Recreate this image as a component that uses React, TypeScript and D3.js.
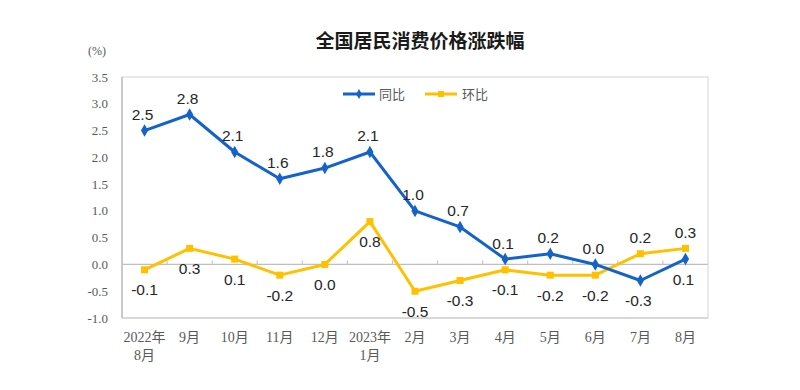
import * as d3 from 'd3'
import { useLayoutEffect } from 'react'

const CATEGORIES = ['2022年\n8月', '9月', '10月', '11月', '12月', '2023年\n1月', '2月', '3月', '4月', '5月', '6月', '7月', '8月']
const YOY = [2.5, 2.8, 2.1, 1.6, 1.8, 2.1, 1.0, 0.7, 0.1, 0.2, 0.0, -0.3, 0.1]
const MOM = [-0.1, 0.3, 0.1, -0.2, 0.0, 0.8, -0.5, -0.3, -0.1, -0.2, -0.2, 0.2, 0.3]
// label above (1) or below (-1) the point
const YOY_POS = [1, 1, 1, 1, 1, 1, 1, 1, 1, 1, 1, -1, -1]
const MOM_POS = [-1, -1, -1, -1, -1, -1, -1, -1, -1, -1, -1, 1, 1]
const Y_TICKS = [3.5, 3.0, 2.5, 2.0, 1.5, 1.0, 0.5, 0.0, -0.5, -1.0]

const W = 800
const H = 390
const FRAME = { left: 122, right: 708, top: 77, bottom: 318 }
const BLUE = '#1463c8'
const YELLOW = '#ffc000'
const SERIF = '"Liberation Serif", "Times New Roman", "Noto Sans CJK SC", serif'
const SANS = '"Liberation Sans", Arial, "Noto Sans CJK SC", sans-serif'

export default function App() {
  useLayoutEffect(() => { document.body.style.margin = '0' }, [])

  const x = d3.scaleBand<string>().domain(CATEGORIES).range([FRAME.left, FRAME.right])
  const y = d3.scaleLinear().domain([-1, 3.5]).range([FRAME.bottom, FRAME.top])
  const cx = (i: number) => (x(CATEGORIES[i]) ?? 0) + x.bandwidth() / 2

  const line = d3.line<number>().x((_, i) => cx(i)).y(d => y(d))
  const y0 = y(0)

  const labelY = (v: number, pos: number) => y(v) + (pos > 0 ? -16 : 20)

  return (
    <svg width={W} height={H} style={{ display: 'block', background: '#fff' }}>
      {/* title */}
      <text x={420} y={48} textAnchor="middle" fontSize={19} fontWeight={600}
        fontFamily='"Noto Sans CJK SC", sans-serif' fill="#1a1a1a">全国居民消费价格涨跌幅</text>
      <text x={88} y={55} fontSize={12} fontFamily={SERIF} fill="#595959">(%)</text>

      {/* frame */}
      <rect x={FRAME.left} y={FRAME.top} width={FRAME.right - FRAME.left} height={FRAME.bottom - FRAME.top}
        fill="none" stroke="#d4d4d4" strokeWidth={1} />
      <line x1={FRAME.left} x2={FRAME.left} y1={FRAME.top} y2={FRAME.bottom} stroke="#bfbfbf" strokeWidth={1.5} />
      <line x1={FRAME.left} x2={FRAME.right} y1={FRAME.bottom} y2={FRAME.bottom} stroke="#c8c8c8" strokeWidth={1.2} />

      {/* y tick labels */}
      {Y_TICKS.map(t => (
        <text key={t} x={FRAME.left - 14} y={y(t)} dy="0.35em" textAnchor="end"
          fontSize={13} fontFamily={SERIF} fill="#595959">{t.toFixed(1)}</text>
      ))}

      {/* zero axis with ticks */}
      <line x1={FRAME.left} x2={FRAME.right} y1={y0} y2={y0} stroke="#bfbfbf" strokeWidth={1.2} />
      {CATEGORIES.slice(1).map(c => (
        <line key={c} x1={x(c)} x2={x(c)} y1={y0} y2={y0 - 4} stroke="#bfbfbf" strokeWidth={1} />
      ))}

      {/* x labels */}
      {CATEGORIES.map((c, i) => (
        <text key={c} x={cx(i)} y={FRAME.bottom + 24} textAnchor="middle"
          fontSize={14} fontFamily={SERIF} fill="#595959">
          {c.split('\n').map((p, k) => (
            <tspan key={k} x={cx(i)} dy={k === 0 ? 0 : 18}>{p}</tspan>
          ))}
        </text>
      ))}

      {/* legend */}
      <g transform="translate(343,94)">
        <line x1={0} x2={32} y1={0} y2={0} stroke={BLUE} strokeWidth={3} />
        <path d={d3.symbol(d3.symbolDiamond, 28)() ?? ''} transform="translate(16,0)" fill={BLUE} />
        <text x={36} y={0} dy="0.35em" fontSize={13} fontFamily={SANS} fill="#595959">同比</text>
        <line x1={82} x2={114} y1={0} y2={0} stroke={YELLOW} strokeWidth={3} />
        <rect x={95} y={-3} width={6} height={6} fill={YELLOW} />
        <text x={119} y={0} dy="0.35em" fontSize={13} fontFamily={SANS} fill="#595959">环比</text>
      </g>

      {/* series */}
      <path d={line(MOM) ?? ''} fill="none" stroke={YELLOW} strokeWidth={3} strokeLinejoin="round" />
      {MOM.map((v, i) => (
        <rect key={i} x={cx(i) - 3.5} y={y(v) - 3.5} width={7} height={7} fill={YELLOW} />
      ))}
      <path d={line(YOY) ?? ''} fill="none" stroke={BLUE} strokeWidth={3} strokeLinejoin="round" />
      {YOY.map((v, i) => (
        <path key={i} d={d3.symbol(d3.symbolDiamond, 45)() ?? ''}
          transform={`translate(${cx(i)},${y(v)})`} fill={BLUE} />
      ))}

      {/* data labels */}
      {YOY.map((v, i) => (
        <text key={'y' + i} x={cx(i) - 2} y={labelY(v, YOY_POS[i])} dy="0.35em" textAnchor="middle"
          fontSize={15.5} fontFamily={SANS} fill="#262626">{v.toFixed(1)}</text>
      ))}
      {MOM.map((v, i) => (
        <text key={'m' + i} x={cx(i)} y={labelY(v, MOM_POS[i])} dy="0.35em" textAnchor="middle"
          fontSize={15.5} fontFamily={SANS} fill="#262626">{v.toFixed(1)}</text>
      ))}
    </svg>
  )
}
